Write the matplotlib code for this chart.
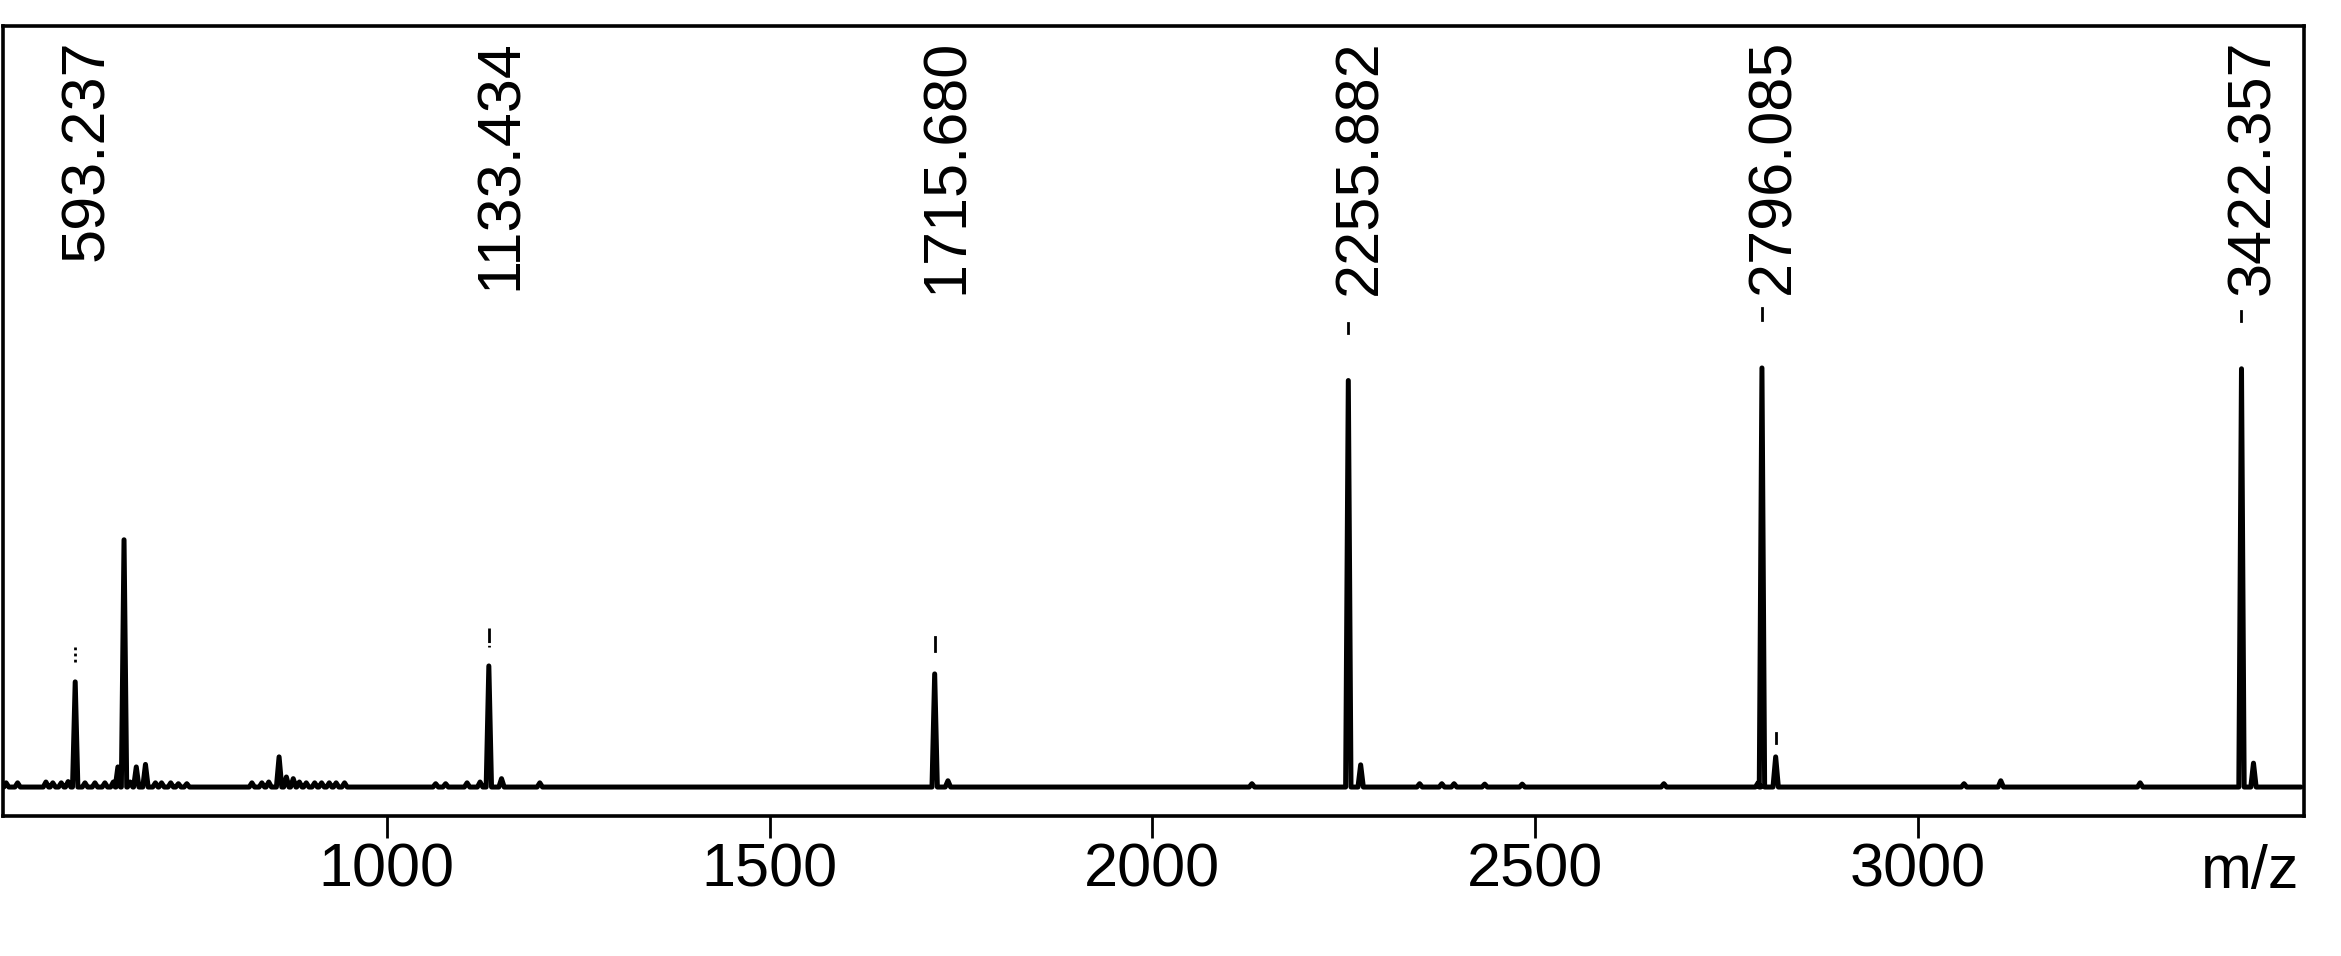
import numpy as np
import matplotlib
matplotlib.use("Agg")
import matplotlib.pyplot as plt

plt.rcParams['font.family'] = ['Liberation Sans', 'DejaVu Sans']

# peak list (m/z, relative intensity, tallest = 100)
peak_mz = [503, 518, 555, 564, 575, 584, 593.237, 606, 619, 632, 643, 649, 657, 665, 673, 685,
           698, 706, 718, 728, 739, 824, 837, 846, 859.5, 869, 878, 886, 895, 906, 915, 925, 934, 945,
           1064, 1077, 1105, 1122, 1133.434, 1150, 1200, 1715.68, 1733, 2130, 2255.882, 2272,
           2349, 2378, 2394, 2434, 2483, 2668, 2791, 2796.085, 2814, 3060, 3108, 3290, 3422.357, 3438]
peak_int = [1.0, 1.0, 1.2, 1.0, 1.0, 1.3, 25.1, 1.0, 1.0, 1.0, 1.2, 4.8, 59.0, 1.2, 4.8, 5.4,
            1.0, 1.0, 1.0, 0.8, 0.8, 1.0, 1.0, 1.2, 7.2, 2.4, 2.0, 1.2, 1.0, 1.0, 1.0, 1.0, 1.0, 1.0,
            0.8, 0.8, 1.0, 1.2, 28.9, 2.0, 1.0, 27.0, 1.5, 0.8, 97.0, 5.3,
            0.8, 0.8, 0.8, 0.7, 0.7, 0.8, 1.0, 100.0, 7.2, 0.8, 1.5, 1.0, 99.8, 5.7]

# annotated peaks
label_mz = [593.237, 1133.434, 1715.680, 2255.882, 2796.085, 3422.357]
label_txt = ["593.237", "1133.434", "1715.680", "2255.882", "2796.085", "3422.357"]

# small marker strokes above the peaks
marker_mz = [593.237, 1133.434, 1715.68, 2255.882, 2796.085, 2814, 3422.357]
marker_lo = [29.8, 33.4, 32.5, 108.4, 111.5, 10.5, 111.2]
marker_hi = [33.4, 38.0, 35.8, 110.7, 114.3, 12.9, 113.6]
marker_ls = [(0, (1, 1.2)), (0, (0.6, 1.0, 5, 0)), '-', '-', '-', '-', '-']

xticks = [1000, 1500, 2000, 2500, 3000]

half_w = 3.5
xs = [500]
ys = [0]
for m, h in sorted(zip(peak_mz, peak_int)):
    xs += [m - half_w, m, m + half_w]
    ys += [0, h, 0]
xs.append(3500)
ys.append(0)

fig = plt.figure(figsize=(23.41, 9.56), dpi=100)
ax = fig.add_axes([0.0013, 0.1464, 0.9829, 0.8264])

ax.plot(xs, ys, color='black', linewidth=3.6, solid_joinstyle='round', solid_capstyle='round')

for m, lo, hi, ls in zip(marker_mz, marker_lo, marker_hi, marker_ls):
    ax.plot([m, m], [lo, hi], color='black', linewidth=2.0, linestyle=ls)

for m, t in zip(label_mz, label_txt):
    ax.text(m + 16, 178.5, t, rotation=90, ha='center', va='top', fontsize=44)

ax.set_xlim(499, 3504)
ax.set_ylim(-6.92, 181.6)
ax.set_xticks(xticks)
ax.set_xticklabels([str(t) for t in xticks])
ax.set_yticks([])
ax.tick_params(axis='x', direction='out', length=16, width=2.0, labelsize=44, pad=3)
for s in ax.spines.values():
    s.set_linewidth(2.6)

ax.text(0.998, -0.035, "m/z", transform=ax.transAxes, ha='right', va='top', fontsize=44)

fig.savefig("out.png", dpi=100)
